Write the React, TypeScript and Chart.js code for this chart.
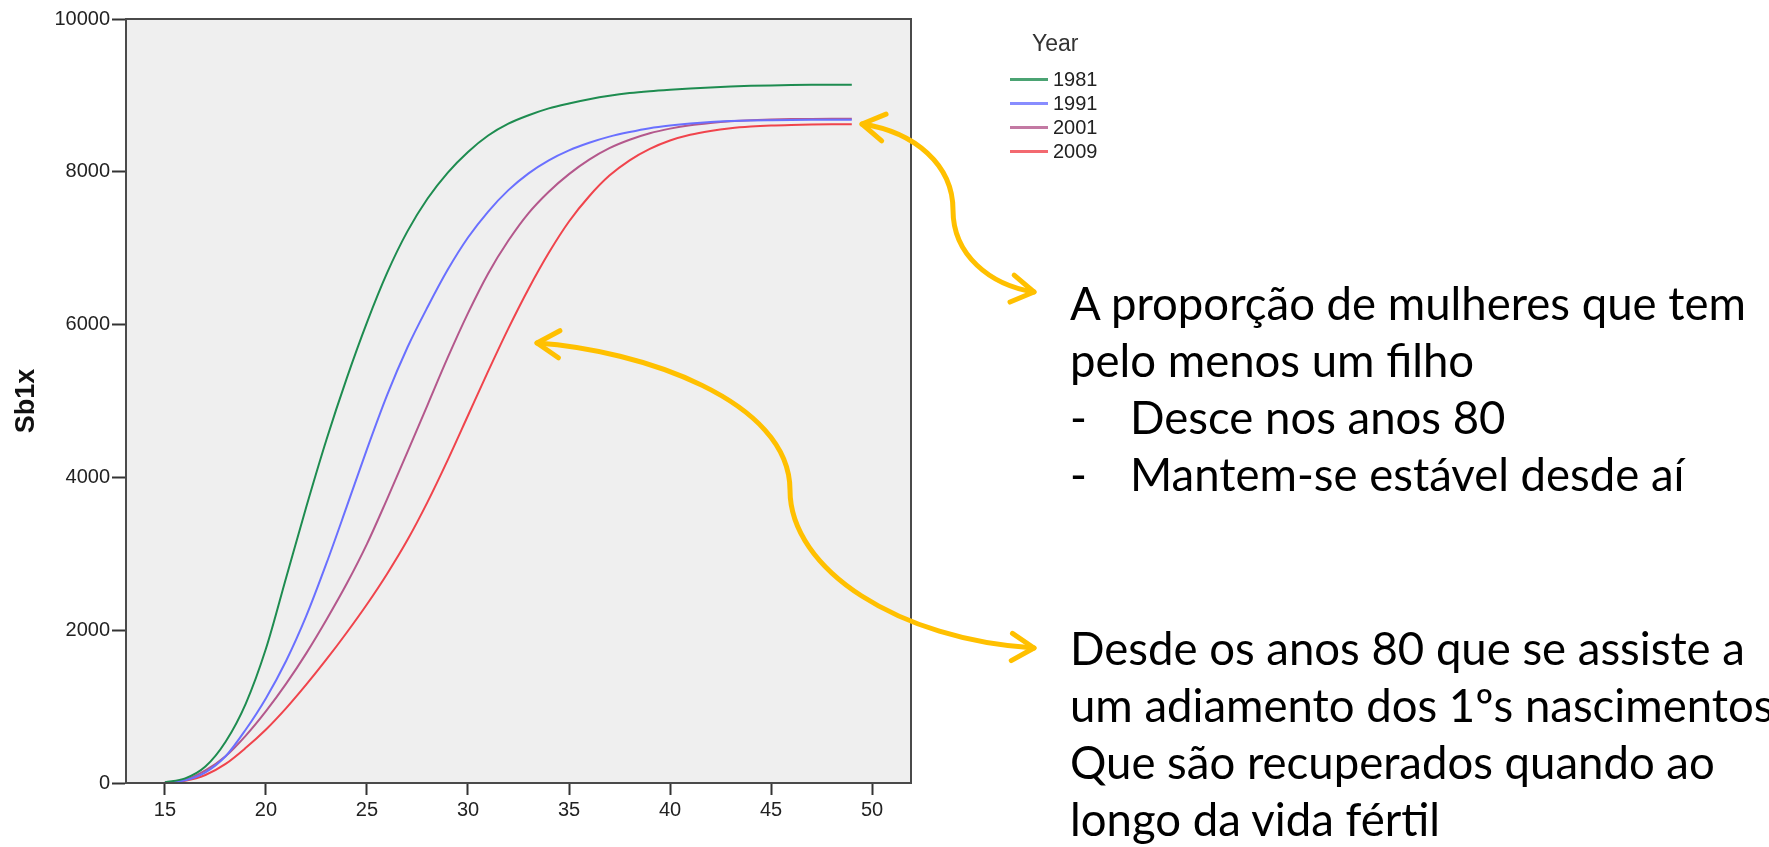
import React, { useEffect, useRef } from "react";
import { Chart, registerables } from "chart.js";

Chart.register(...registerables);

// ---------- data ----------
const ages = [15, 16, 17, 18, 19, 20, 21, 22, 23, 24, 25, 26, 27, 28, 29, 30, 31, 32, 33, 34, 35, 36, 37, 38, 39, 40, 41, 42, 43, 44, 45, 46, 47, 48, 49];

const sb1x1981 = [10, 60, 215, 540, 1040, 1760, 2690, 3620, 4500, 5300, 6030, 6680, 7220, 7650, 7990, 8260, 8475, 8630, 8740, 8830, 8895, 8950, 8995, 9030, 9055, 9074, 9090, 9104, 9116, 9125, 9131, 9135, 9138, 9140, 9141];
const sb1x1991 = [5, 35, 140, 350, 700, 1110, 1600, 2190, 2880, 3620, 4370, 5080, 5700, 6230, 6720, 7140, 7480, 7760, 7980, 8150, 8280, 8380, 8460, 8520, 8570, 8605, 8632, 8652, 8664, 8671, 8675, 8678, 8680, 8681, 8681];
const sb1x2001 = [5, 40, 165, 350, 620, 940, 1300, 1700, 2140, 2610, 3130, 3720, 4330, 4950, 5570, 6150, 6670, 7100, 7460, 7740, 7970, 8160, 8310, 8420, 8505, 8565, 8610, 8640, 8662, 8676, 8685, 8690, 8692, 8693, 8694];
const sb1x2009 = [5, 30, 105, 250, 460, 700, 980, 1290, 1620, 1970, 2340, 2740, 3180, 3680, 4230, 4810, 5390, 5950, 6470, 6940, 7350, 7680, 7950, 8150, 8300, 8410, 8485, 8535, 8570, 8592, 8606, 8614, 8619, 8622, 8623];

const seriesLabels = ["1981", "1991", "2001", "2009"];
const seriesColors = ["#1e8c50", "#6a70ff", "#b4588c", "#f0444c"];
const seriesValues = [sb1x1981, sb1x1991, sb1x2001, sb1x2009];

const xTicks = [15, 20, 25, 30, 35, 40, 45, 50];
const yTicks = [0, 2000, 4000, 6000, 8000, 10000];

const legendTitle = "Year";
const yAxisTitle = "Sb1x";

const note1 = ["A proporção de mulheres que tem", "pelo menos um filho"];
const note1Bullets = ["Desce nos anos 80", "Mantem-se estável desde aí"];
const note2 = ["Desde os anos 80 que se assiste a", "um adiamento dos 1ºs nascimentos", "Que são recuperados quando ao", "longo da vida fértil"];

// ---------- layout ----------
const W = 1769;
const H = 847;
const AREA = { left: 126, top: 19, right: 911, bottom: 783 };
const ARROW = "#FFC000";

function drawArrowHead(ctx: CanvasRenderingContext2D, tip: number[], from: number[]) {
  const ang = Math.atan2(tip[1] - from[1], tip[0] - from[0]);
  const len = 26;
  const spread = 0.55;
  ctx.beginPath();
  ctx.moveTo(tip[0] - len * Math.cos(ang - spread), tip[1] - len * Math.sin(ang - spread));
  ctx.lineTo(tip[0], tip[1]);
  ctx.lineTo(tip[0] - len * Math.cos(ang + spread), tip[1] - len * Math.sin(ang + spread));
  ctx.stroke();
}

const framePlugin = {
  id: "frame",
  beforeDatasetsDraw(chart: any) {
    const { ctx, chartArea } = chart;
    ctx.save();
    ctx.fillStyle = "#efefef";
    ctx.fillRect(chartArea.left, chartArea.top, chartArea.right - chartArea.left, chartArea.bottom - chartArea.top);
    ctx.restore();
  },
  afterDraw(chart: any) {
    const { ctx, chartArea } = chart;
    ctx.save();
    ctx.strokeStyle = "#4a4a4a";
    ctx.lineWidth = 2;
    ctx.strokeRect(chartArea.left, chartArea.top, chartArea.right - chartArea.left, chartArea.bottom - chartArea.top);

    // annotation arrows
    ctx.strokeStyle = ARROW;
    ctx.lineWidth = 5;
    ctx.lineCap = "round";
    ctx.lineJoin = "round";
    // upper arrow
    ctx.beginPath();
    ctx.moveTo(862, 124);
    ctx.bezierCurveTo(915, 132, 953, 165, 953, 210);
    ctx.bezierCurveTo(953, 255, 990, 285, 1034, 292);
    ctx.stroke();
    drawArrowHead(ctx, [862, 124], [905, 131]);
    drawArrowHead(ctx, [1034, 292], [995, 286]);
    // lower arrow
    ctx.beginPath();
    ctx.moveTo(537, 343);
    ctx.bezierCurveTo(640, 350, 790, 400, 790, 490);
    ctx.bezierCurveTo(790, 570, 900, 640, 1034, 648);
    ctx.stroke();
    drawArrowHead(ctx, [537, 343], [590, 346]);
    drawArrowHead(ctx, [1034, 648], [990, 646]);
    ctx.restore();
  },
};

export default function App() {
  const canvasRef = useRef<HTMLCanvasElement | null>(null);

  useEffect(() => {
    if (!canvasRef.current) return;
    const datasets = seriesValues.map((vals, i) => ({
      label: seriesLabels[i],
      data: ages.map((a, j) => ({ x: a, y: vals[j] })),
      borderColor: seriesColors[i],
      backgroundColor: seriesColors[i],
      borderWidth: 2,
      pointRadius: 0,
      fill: false,
      cubicInterpolationMode: "monotone" as const,
    }));
    const tickFont = { family: "'Liberation Sans', Arial, sans-serif", size: 20 };
    const chart = new Chart(canvasRef.current, {
      type: "line",
      data: { datasets },
      plugins: [framePlugin],
      options: {
        animation: false,
        responsive: false,
        maintainAspectRatio: false,
        layout: { padding: { left: 0, top: AREA.top, right: W - AREA.right, bottom: 0 } },
        plugins: { legend: { display: false }, tooltip: { enabled: false } },
        scales: {
          x: {
            type: "linear",
            min: 13.07,
            max: 51.93,
            afterBuildTicks: (s: any) => {
              s.ticks = xTicks.map((v) => ({ value: v }));
            },
            afterFit: (s: any) => {
              s.height = H - AREA.bottom;
            },
            ticks: { font: tickFont, color: "#222", padding: 3, maxRotation: 0, autoSkip: false, callback: (v: any) => String(v) },
            grid: { drawOnChartArea: false, drawTicks: true, tickLength: 12, tickWidth: 2, tickColor: "#333" },
            border: { display: true, color: "#333", width: 2 },
          },
          y: {
            type: "linear",
            min: 0,
            max: 10000,
            afterBuildTicks: (s: any) => {
              s.ticks = yTicks.map((v) => ({ value: v }));
            },
            afterFit: (s: any) => {
              s.width = AREA.left;
            },
            ticks: { font: tickFont, color: "#222", padding: 2, callback: (v: any) => String(v) },
            grid: { drawOnChartArea: false, drawTicks: true, tickLength: 14, tickWidth: 2, tickColor: "#333" },
            border: { display: true, color: "#333", width: 2 },
            title: {
              display: true,
              text: yAxisTitle,
              color: "#111",
              font: { family: "'Liberation Sans', Arial, sans-serif", size: 27, weight: "bold" },
              padding: { top: 10, bottom: 0 },
            },
          },
        },
      },
    } as any);
    return () => chart.destroy();
  }, []);

  const noteStyle: React.CSSProperties = {
    position: "absolute",
    fontFamily: "Lato, 'Open Sans', sans-serif",
    fontSize: 45.5,
    lineHeight: "57px",
    color: "#000",
    whiteSpace: "nowrap",
  };

  return (
    <div style={{ position: "absolute", left: 0, top: 0, width: W, height: H, overflow: "hidden", background: "#fff" }}>
      <canvas ref={canvasRef} width={W} height={H} style={{ position: "absolute", left: 0, top: 0, width: W, height: H }} />

      {/* legend */}
      <div style={{ position: "absolute", left: 1032, top: 29, fontFamily: "'Liberation Sans', Arial, sans-serif", fontSize: 23, lineHeight: "28px", color: "#333" }}>
        {legendTitle}
      </div>
      {seriesLabels.map((lab, i) => (
        <div key={lab} style={{ position: "absolute", left: 1010, top: 67 + i * 24, height: 24, display: "flex", alignItems: "center", fontFamily: "'Liberation Sans', Arial, sans-serif", fontSize: 20, color: "#222" }}>
          <span style={{ display: "inline-block", width: 38, height: 3, background: seriesColors[i], marginRight: 5, opacity: 0.8 }} />
          <span>{lab}</span>
        </div>
      ))}

      {/* annotations */}
      <div style={{ ...noteStyle, left: 1070, top: 274 }}>
        {note1.map((t) => (
          <div key={t}>{t}</div>
        ))}
        {note1Bullets.map((t) => (
          <div key={t} style={{ display: "flex" }}>
            <span style={{ display: "inline-block", width: 60 }}>-</span>
            <span>{t}</span>
          </div>
        ))}
      </div>
      <div style={{ ...noteStyle, left: 1070, top: 619 }}>
        {note2.map((t) => (
          <div key={t}>{t}</div>
        ))}
      </div>
    </div>
  );
}
